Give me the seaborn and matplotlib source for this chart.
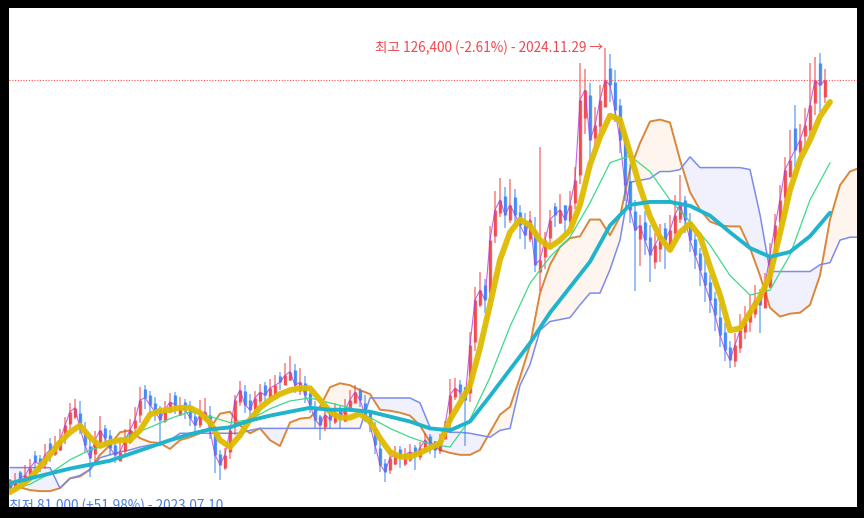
import numpy as np
import pandas as pd
import matplotlib.pyplot as plt
import seaborn as sns

# daily candles (price in thousand won)
close = [81.5, 82.1, 82.5, 82.8, 83.6, 84.2, 83.9, 84.9, 85.4, 85.9,
         86.4, 87.9, 89.3, 89.7, 87.6, 85.9, 84.6, 86.4, 87.4, 86.6,
         85.6, 84.9, 85.2, 86.4, 87.4, 88.5, 90.5, 90.7, 90.0, 89.3,
         88.5, 89.5, 90.3, 90.0, 89.7, 89.5, 88.7, 87.9, 89.0, 89.3,
         87.4, 84.9, 83.9, 84.9, 87.4, 90.5, 91.5, 90.0, 89.5, 90.7,
         91.3, 91.0, 91.7, 92.0, 92.3, 93.0, 93.4, 92.0, 92.3, 91.0,
         90.0, 88.5, 87.9, 89.0, 88.5, 89.3, 88.7, 89.5, 90.5, 91.3,
         90.5, 89.0, 87.9, 85.9, 83.9, 83.2, 84.6, 84.9, 84.6, 84.9,
         85.2, 84.9, 85.6, 86.4, 85.9, 85.4, 86.4, 87.9, 91.0, 91.7,
         91.3, 90.5, 96.1, 100.7, 101.7, 100.7, 106.8, 109.9, 110.9, 109.4,
         110.4, 109.4, 108.3, 107.3, 108.9, 104.3, 104.8, 106.8, 108.9, 109.4,
         109.9, 108.9, 110.4, 112.9, 121.1, 122.1, 117.0, 118.5, 121.1, 123.1,
         122.6, 120.1, 117.0, 112.4, 109.9, 107.8, 108.3, 106.8, 105.3, 106.3,
         107.3, 106.8, 107.8, 109.4, 110.4, 108.9, 106.8, 105.3, 103.8, 102.2,
         100.7, 99.2, 97.1, 95.6, 94.6, 96.1, 97.6, 98.7, 99.7, 100.7,
         100.2, 102.2, 105.3, 108.3, 110.9, 114.0, 115.0, 116.0, 117.0, 118.5,
         120.6, 123.1, 122.6, 123.1]
open_ = [81.9, 81.4, 83.1, 82.0, 82.9, 84.9, 84.6, 84.0, 86.1, 85.0,
         85.4, 86.8, 88.0, 88.8, 89.2, 87.2, 85.8, 85.0, 86.2, 87.6,
         86.9, 85.9, 84.3, 85.3, 86.2, 87.6, 89.0, 91.6, 91.0, 90.2,
         89.6, 88.4, 89.3, 91.0, 89.0, 90.3, 89.8, 88.9, 87.9, 88.5,
         89.0, 87.2, 85.0, 83.6, 85.2, 87.8, 90.3, 91.4, 90.5, 89.6,
         90.4, 92.0, 90.8, 91.0, 92.9, 92.0, 92.5, 93.6, 91.4, 92.2,
         91.2, 89.8, 88.9, 87.7, 89.5, 88.2, 89.7, 88.4, 89.4, 90.2,
         91.5, 90.2, 89.2, 87.6, 85.6, 84.1, 83.4, 84.0, 85.5, 84.0,
         84.4, 85.7, 84.7, 85.4, 86.8, 86.3, 85.3, 86.5, 88.2, 90.8,
         92.1, 91.8, 91.2, 96.4, 100.2, 102.2, 101.5, 107.2, 109.6, 111.3,
         108.9, 111.2, 109.7, 108.6, 106.9, 107.8, 103.6, 105.1, 107.0, 110.3,
         108.6, 110.4, 108.8, 110.6, 113.4, 119.3, 121.6, 117.2, 118.4, 120.4,
         124.4, 122.9, 120.6, 117.3, 112.8, 109.8, 106.9, 108.7, 107.1, 104.6,
         105.9, 108.0, 106.2, 107.5, 109.0, 110.9, 108.7, 106.9, 105.5, 103.6,
         102.5, 100.9, 99.0, 97.4, 95.9, 94.5, 95.8, 97.4, 98.4, 99.3,
         101.4, 99.9, 102.0, 105.1, 108.7, 111.2, 113.2, 118.2, 115.8, 117.4,
         118.0, 120.8, 124.9, 121.4]
high = [82.4, 83.0, 83.3, 83.9, 84.5, 85.3, 84.9, 86.0, 86.6, 86.8,
        87.5, 88.8, 90.2, 90.6, 90.4, 88.3, 86.7, 87.3, 88.9, 87.9,
        87.4, 86.3, 86.4, 87.5, 88.6, 89.8, 91.8, 92.0, 91.4, 90.8,
        89.9, 90.4, 91.2, 91.3, 90.8, 90.6, 90.4, 89.5, 90.5, 90.7,
        89.9, 87.8, 85.4, 85.6, 87.9, 91.0, 92.4, 92.0, 91.1, 91.4,
        92.1, 92.3, 92.6, 93.0, 93.3, 94.3, 95.0, 94.2, 93.8, 92.9,
        91.6, 90.4, 89.0, 89.7, 89.6, 90.2, 89.9, 90.6, 91.5, 92.0,
        91.7, 91.0, 89.4, 88.3, 86.4, 84.5, 85.3, 85.8, 85.8, 85.6,
        86.0, 85.9, 86.2, 87.1, 87.0, 86.3, 87.0, 88.4, 92.6, 92.7,
        92.5, 91.5, 97.4, 102.0, 103.5, 102.8, 108.2, 111.8, 113.1, 112.2,
        113.0, 112.0, 110.4, 109.6, 109.8, 109.2, 116.3, 107.6, 109.9, 110.6,
        111.5, 110.3, 111.8, 114.3, 124.9, 124.3, 122.8, 120.4, 122.6, 126.4,
        125.8, 124.2, 121.2, 118.0, 114.6, 110.9, 109.4, 109.8, 108.3, 107.5,
        108.4, 108.5, 109.4, 111.4, 113.4, 111.3, 109.6, 107.4, 106.0, 104.9,
        103.2, 101.5, 100.3, 98.3, 96.5, 97.3, 99.3, 100.1, 101.2, 102.2,
        101.8, 103.4, 106.5, 109.5, 112.4, 115.3, 118.0, 120.6, 118.6, 120.3,
        124.9, 125.5, 125.9, 124.3]
low = [81.0, 81.2, 81.7, 82.0, 82.3, 83.0, 83.2, 83.5, 84.2, 84.8,
       85.3, 86.0, 87.4, 88.6, 87.0, 85.2, 82.6, 84.0, 85.9, 85.8,
       84.9, 84.1, 84.3, 84.9, 86.0, 86.9, 88.1, 89.6, 89.1, 88.4,
       85.8, 88.1, 89.2, 89.1, 88.9, 88.6, 87.8, 87.0, 87.6, 88.4,
       86.5, 83.0, 82.3, 83.4, 84.5, 86.9, 89.9, 89.2, 88.4, 89.0,
       90.1, 90.1, 90.6, 91.1, 91.5, 92.0, 92.4, 91.2, 91.0, 90.2,
       89.2, 87.6, 86.4, 87.3, 87.6, 88.0, 87.6, 88.3, 89.6, 90.2,
       89.8, 88.3, 87.2, 85.0, 83.1, 82.1, 82.9, 83.9, 83.6, 83.8,
       84.2, 83.4, 84.4, 85.1, 85.0, 84.6, 85.0, 86.7, 87.4, 90.5,
       90.2, 85.8, 90.3, 95.5, 100.0, 99.4, 100.5, 106.5, 109.2, 108.0,
       108.5, 108.2, 106.9, 105.9, 106.6, 103.5, 101.6, 103.9, 106.1, 108.1,
       108.4, 107.5, 108.3, 110.0, 112.5, 117.6, 114.3, 116.2, 117.3, 120.6,
       120.9, 118.9, 115.7, 110.8, 108.6, 101.6, 104.2, 105.3, 102.5, 103.9,
       104.6, 103.9, 105.6, 107.0, 108.6, 107.5, 105.6, 103.9, 102.1, 100.5,
       99.4, 97.5, 95.9, 94.5, 93.8, 93.9, 95.3, 96.7, 97.4, 98.9,
       97.3, 100.0, 101.9, 104.6, 107.9, 110.2, 113.4, 114.3, 115.2, 116.2,
       117.4, 119.6, 119.9, 120.8]

# short moving average, one value every 2 candles
ma_short = [81.1, 81.7, 82.5, 83.7, 84.9, 86.2, 87.2, 87.9, 86.7, 85.8,
            86.2, 86.4, 86.4, 87.4, 89.0, 89.4, 89.5, 89.7, 89.7, 89.2,
            88.2, 86.4, 85.7, 86.9, 88.5, 89.7, 90.5, 91.1, 91.5, 91.7,
            91.7, 90.5, 89.3, 88.7, 88.7, 89.1, 88.3, 86.6, 85.2, 84.7,
            84.7, 85.1, 85.6, 86.1, 88.5, 90.2, 92.0, 95.8, 100.2, 104.8,
            107.6, 108.9, 108.3, 106.8, 106.1, 106.8, 107.8, 110.4, 114.5, 117.3,
            119.5, 119.1, 115.7, 112.2, 109.2, 107.1, 105.8, 107.6, 108.5, 107.2,
            104.1, 101.2, 97.6, 97.8, 99.4, 101.0, 103.2, 107.5, 111.9, 115.0,
            117.0, 119.4, 120.9]
# mid and long moving averages, one value every 4 candles
ma_mid = [81.3, 81.9, 83.0, 84.4, 85.4, 86.0, 86.9, 87.7, 88.6, 89.3,
          88.8, 88.2, 88.5, 89.6, 90.4, 90.7, 90.2, 89.7, 88.7, 87.6,
          86.7, 86.0, 85.7, 88.5, 92.8, 98.0, 102.4, 105.1, 107.1, 110.6,
          114.7, 115.4, 113.8, 110.9, 108.7, 106.3, 103.2, 101.2, 101.7, 105.3,
          110.9, 114.7]
ma_long = [82.0, 82.5, 83.0, 83.5, 83.9, 84.3, 85.0, 85.7, 86.4, 87.0,
           87.5, 87.7, 88.4, 88.9, 89.3, 89.7, 89.5, 89.5, 89.3, 88.8,
           88.3, 87.6, 87.4, 88.3, 90.9, 93.6, 96.3, 99.4, 102.0, 104.6,
           108.3, 110.4, 110.7, 110.7, 110.3, 109.3, 107.6, 106.0, 105.1, 105.6,
           107.2, 109.6]

# ichimoku spans, one value every 2 candles (run past the last candle)
span_a = [82.3, 81.6, 81.3, 81.2, 81.2, 81.5, 82.5, 82.7, 83.4, 84.9,
          85.9, 87.2, 87.4, 86.6, 86.2, 86.1, 85.5, 86.4, 86.7, 87.1,
          87.6, 89.1, 89.3, 87.9, 87.1, 87.6, 86.4, 85.8, 88.2, 88.6,
          88.7, 89.8, 91.8, 92.2, 92.0, 91.5, 91.1, 89.5, 89.4, 89.2,
          88.9, 87.9, 86.2, 85.4, 85.1, 84.9, 84.9, 85.4, 87.2, 89.0,
          89.8, 92.8, 96.1, 101.4, 104.3, 106.1, 107.0, 107.2, 108.9, 108.9,
          107.3, 109.2, 114.0, 116.7, 118.9, 119.1, 118.8, 115.0, 111.7, 109.9,
          108.7, 108.3, 108.2, 108.2, 106.0, 103.2, 99.9, 99.0, 99.3, 99.4,
          100.2, 103.2, 108.9, 112.4, 113.8, 114.2]
span_b = [83.6, 83.6, 83.6, 83.6, 83.6, 81.5, 82.5, 82.8, 83.4, 84.6,
          84.9, 85.2, 85.4, 85.7, 85.9, 85.9, 86.4, 87.1, 87.1, 87.1,
          87.1, 87.1, 87.1, 87.1, 87.4, 87.6, 87.6, 87.6, 87.6, 87.6,
          87.6, 87.6, 87.6, 87.6, 87.6, 87.6, 90.7, 90.7, 90.7, 90.7,
          90.7, 90.2, 87.7, 87.4, 87.2, 87.2, 87.1, 86.9, 86.7, 87.4,
          87.6, 92.0, 94.1, 97.6, 98.5, 98.7, 98.9, 100.2, 101.4, 101.4,
          103.8, 106.8, 112.7, 112.9, 113.1, 113.8, 113.8, 114.0, 115.3, 114.2,
          114.2, 114.2, 114.2, 114.2, 114.0, 109.4, 103.6, 103.6, 103.6, 103.6,
          103.6, 104.3, 104.5, 106.8, 107.1, 107.1]

last_price = 123.1

candles = pd.DataFrame({'open': open_, 'close': close, 'high': high, 'low': low})
candles['day'] = np.arange(len(candles))
candles['high'] = candles[['high', 'open', 'close']].max(axis=1)
candles['low'] = candles[['low', 'open', 'close']].min(axis=1)
candles['up'] = candles['close'] >= candles['open']

short_df = pd.DataFrame({'day': np.arange(len(ma_short)) * 2, 'v': ma_short})
ma = pd.DataFrame({'day': np.arange(len(ma_mid)) * 4, 'mid': ma_mid, 'long': ma_long})
spans = pd.DataFrame({'day': np.arange(len(span_a)) * 2, 'a': span_a, 'b': span_b})

sns.set_style('white')
plt.rcParams['font.family'] = ['Noto Sans CJK KR', 'DejaVu Sans']

fig = plt.figure(figsize=(8.64, 5.18), dpi=100, facecolor='black')
ax = fig.add_axes([9 / 864, 11 / 518, 848 / 864, 499 / 518])
ax.set_facecolor('white')

# cloud
ax.fill_between(spans['day'], spans['a'], spans['b'], where=spans['a'] >= spans['b'],
                interpolate=True, color='#fcf1e6', alpha=0.65, lw=0)
ax.fill_between(spans['day'], spans['a'], spans['b'], where=spans['a'] < spans['b'],
                interpolate=True, color='#e6e9fb', alpha=0.6, lw=0)
sns.lineplot(data=spans, x='day', y='a', ax=ax, color='#d9873a', lw=1.4)
sns.lineplot(data=spans, x='day', y='b', ax=ax, color='#7d8bec', lw=1.1)

# candles
up_c, down_c = '#f2383a', '#2f7ff2'
colors = np.where(candles['up'], up_c, down_c)
ax.vlines(candles['day'], candles['low'], candles['high'], colors=colors, lw=1.4, alpha=0.5)
ax.vlines(candles['day'], candles['open'], candles['close'], colors=colors, lw=2.4, alpha=0.8)
sns.lineplot(data=candles, x='day', y='close', ax=ax, color='#b040e0', lw=0.8, alpha=0.8)

# moving averages
sns.lineplot(data=ma, x='day', y='mid', ax=ax, color='#3fd98a', lw=0.9)
sns.lineplot(data=short_df, x='day', y='v', ax=ax, color='#dfbb00', lw=4.2, alpha=0.95,
             solid_joinstyle='round', solid_capstyle='round')
sns.lineplot(data=ma, x='day', y='long', ax=ax, color='#1fb3cc', lw=2.8,
             solid_joinstyle='round', solid_capstyle='round')

ax.axhline(last_price, color='#ff5050', ls=(0, (1, 1.5)), lw=0.8)

hi_day = candles['high'].idxmax()
lo_day = candles['low'].idxmin()
hi = candles['high'].max()
lo = candles['low'].min()
ax.text(hi_day - 0.4, hi, f'최고 {hi * 1000:,.0f} ({(last_price - hi) / hi * 100:.2f}%) - 2024.11.29 →',
        ha='right', va='center', color='#f0474f', fontsize=9.8)
ax.text(lo_day - 0.2, 79.65, f'최저 {lo * 1000:,.0f} (+{(last_price - lo) / lo * 100:.2f}%) - 2023.07.10',
        ha='left', va='center', color='#4a7fe0', fontsize=9.8, clip_on=True)

ax.set_xlim(-0.2, 169.4)
ax.set_ylim(79.58, 130.48)
ax.set_xticks([])
ax.set_yticks([])
ax.set_xlabel('')
ax.set_ylabel('')
for s in ax.spines.values():
    s.set_visible(False)

fig.savefig('out.png', dpi=100, facecolor='black')
